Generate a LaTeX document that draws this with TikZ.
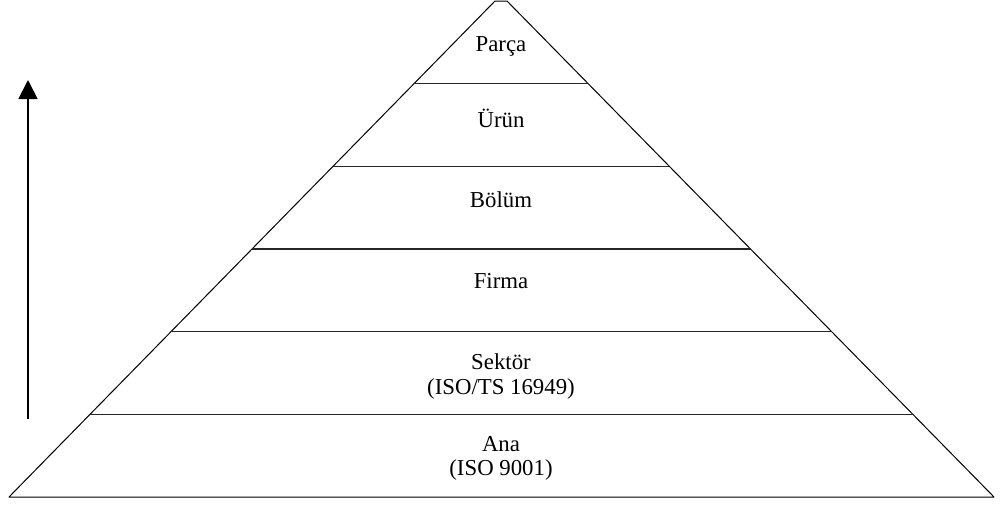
\documentclass[tikz,border=0pt]{standalone}
\usepackage{fontspec}
\setmainfont{Liberation Serif}
\usetikzlibrary{calc,arrows.meta}
\begin{document}
\begin{tikzpicture}[x=1pt,y=-1pt,
  edge/.style={line width=1pt,black},
  layer/.style={line width=1.1pt,black!85},
  lbl/.style={anchor=base,inner sep=0pt,font=\fontsize{22.8}{25}\selectfont,align=center},
  rise/.style={line width=1.8pt,-{Triangle[length=19pt,width=19pt]}}]
  \useasboundingbox (0,0) rectangle (1000,504);
  % pyramid corners
  \coordinate (BL) at (9,497);
  \coordinate (BR) at (994,497);
  \coordinate (TL) at (495,1);
  \coordinate (TR) at (507,1);
  \draw[edge,line join=round] (BL) -- (TL) -- (TR) -- (BR) -- cycle;
  % layer boundaries, evenly spaced up the sides
  \foreach \k in {1,...,5}{
    \coordinate (l\k) at ($(BL)!\k/6!(TL)$);
    \coordinate (r\k) at ($(BR)!\k/6!(TR)$);
    \draw[layer] (l\k) -- (r\k);
  }
  % layer labels
  \node[lbl] (parca)  at (501,51)  {Parça};
  \node[lbl] (urun)   at (501,127) {Ürün};
  \node[lbl] (bolum)  at (501,207) {Bölüm};
  \node[lbl] (firma)  at (501,288) {Firma};
  \node[lbl] (sektor) at (501,369) {Sektör};
  \node[lbl] (sektorstd) at (501,394) {(ISO/TS 16949)};
  \node[lbl] (ana)    at (501,451) {Ana};
  \node[lbl] (anastd) at (501,475) {(ISO 9001)};
  % upward arrow
  \coordinate (up0) at (28,419);
  \coordinate (up1) at (28,80);
  \draw[rise] (up0) -- (up1);
\end{tikzpicture}
\end{document}
